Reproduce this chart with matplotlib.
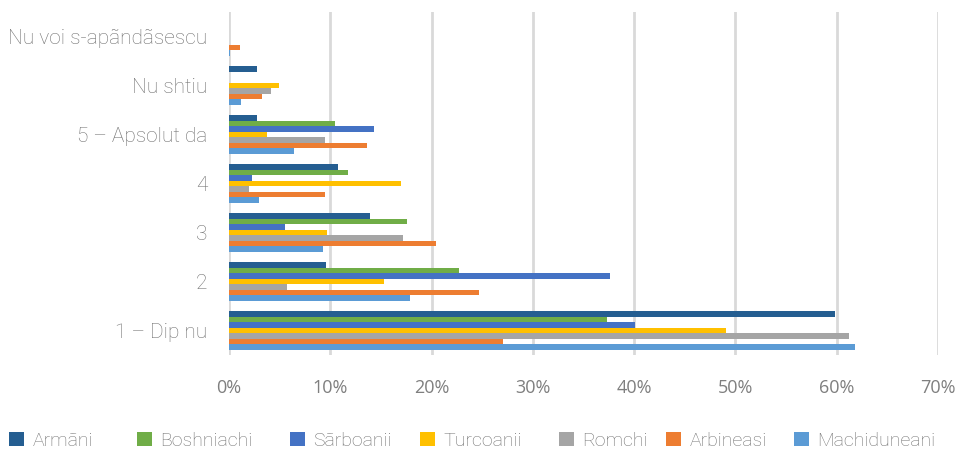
import matplotlib
matplotlib.use("Agg")
import matplotlib.pyplot as plt
import numpy as np

categories = ["1 – Dip nu", "2", "3", "4", "5 – Apsolut da", "Nu shtiu", "Nu voi s-apãndãsescu"]
series_names = ["Armãni", "Boshniachi", "Sãrboanii", "Turcoanii", "Romchi", "Arbineasi", "Machiduneani"]
armani       = [59.8, 9.6, 13.9, 10.8, 2.8, 2.8, 0.0]
boshniachi   = [37.3, 22.7, 17.6, 11.7, 10.5, 0.0, 0.0]
sarboanii    = [40.1, 37.6, 5.5, 2.3, 14.3, 0.0, 0.0]
turcoanii    = [49.1, 15.3, 9.7, 17.0, 3.75, 4.9, 0.0]
romchi       = [61.2, 5.7, 17.2, 2.0, 9.5, 4.1, 0.0]
arbineasi    = [27.1, 24.7, 20.4, 9.5, 13.6, 3.3, 1.1]
machiduneani = [61.8, 17.9, 9.3, 3.0, 6.4, 1.15, 0.1]
xticks = [0, 10, 20, 30, 40, 50, 60, 70]

data = [armani, boshniachi, sarboanii, turcoanii, romchi, arbineasi, machiduneani]
colors = ["#255E91", "#70AD47", "#4472C4", "#FFC000", "#A5A5A5", "#ED7D31", "#5B9BD5"]

plt.rcParams['font.family'] = ['Roboto', 'DejaVu Sans']

W, H = 961, 450
fig = plt.figure(figsize=(W / 100, H / 100), dpi=100)
ax = fig.add_axes([229 / W, 1 - 355 / H, (938 - 229) / W, (355 - 12) / H])

n = len(series_names)
h = 0.114
y = np.arange(len(categories))
for i, (name, vals, c) in enumerate(zip(series_names, data, colors)):
    offs = (n - 1) / 2 * h - i * h
    ax.barh(y + offs, vals, height=h, color=c, label=name, linewidth=0, zorder=3)

ax.set_xlim(0, 70)
ax.set_ylim(-0.5, 6.5)
ax.set_xticks(xticks)
ax.set_xticklabels([f"{t}%" for t in xticks], fontsize=13, color="#7F7F7F",
                   family=['Open Sans', 'DejaVu Sans'])
ax.set_yticks(y)
ax.set_yticklabels(categories, fontsize=15, color="#707070", fontweight='light')
ax.tick_params(axis='both', length=0)
ax.tick_params(axis='x', pad=17)
ax.tick_params(axis='y', pad=15.5)
ax.grid(axis='x', color="#D9D9D9", linewidth=2.0, zorder=0)
for s in ax.spines.values():
    s.set_visible(False)

handles, labels = ax.get_legend_handles_labels()
leg_x = [9, 137, 290, 420, 559, 666, 794]
for hd, lb, lx in zip(handles, labels, leg_x):
    leg = fig.legend([hd], [lb], loc='center left', bbox_to_anchor=(lx / W, 1 - 441 / H),
                     frameon=False, fontsize=14, handlelength=0.75, handleheight=0.75,
                     handletextpad=0.45, borderpad=0, borderaxespad=0)
    for t in leg.get_texts():
        t.set_color("#707070")
        t.set_fontweight('light')

fig.savefig("out.png", dpi=100, facecolor="white")
